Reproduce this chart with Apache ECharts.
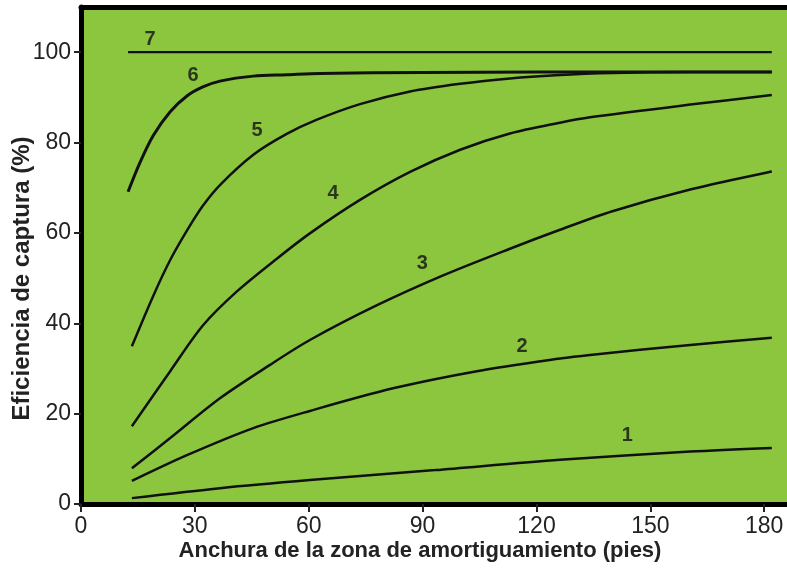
<!DOCTYPE html>
<html>
<head>
<meta charset="utf-8">
<script src="https://cdn.jsdelivr.net/npm/echarts@6/dist/echarts.min.js"></script>
<style>
  html, body { margin: 0; padding: 0; background: #fff; }
  #chart { width: 787px; height: 573px; }
</style>
</head>
<body>
<div id="chart"></div>
<script>
// cada curva: anchura (pies) y eficiencia (%)
const x1 = [13.4, 36.6, 60.3, 93.3, 126.2, 160.5, 182];
const y1 = [1.3, 3.5, 5.3, 7.5, 9.8, 11.6, 12.4];

const x2 = [13.4, 27.9, 45.4, 60.3, 82.2, 104.3, 126.2, 134.1, 160.5, 182];
const y2 = [5.1, 10.8, 16.8, 20.6, 25.6, 29.4, 32.2, 33.0, 35.2, 36.8];

const x3 = [13.4, 23.5, 36.6, 49.8, 60.3, 78, 95.4, 113, 126.2, 140, 160.5, 182];
const y3 = [7.9, 14.6, 23.4, 30.8, 36.3, 44.0, 50.6, 56.5, 60.7, 64.8, 69.6, 73.6];

const x4 = [13.4, 23.5, 32.1, 41, 51.6, 60.3, 73.5, 86.7, 99.9, 113, 126.2, 134.1, 160.5, 182];
const y4 = [17.2, 29.4, 39.5, 47, 54.3, 59.9, 67.3, 73.5, 78.4, 82.0, 84.4, 85.6, 88.4, 90.5];

const x5 = [13.4, 19, 23.5, 27.9, 32.1, 36.6, 45.4, 54.2, 62, 73.5, 86.7, 99.9, 113, 125, 140, 160, 182];
const y5 = [34.9, 46, 54, 60.5, 66.0, 70.6, 77.3, 81.9, 85.0, 88.5, 91.3, 93.0, 94.2, 94.9, 95.4, 95.6, 95.6];

const x6 = [12.4, 15.5, 19, 23.5, 27.9, 32.1, 36.6, 45.4, 54.2, 63, 90, 120, 150, 182];
const y6 = [69.1, 75.5, 81.5, 86.8, 90.3, 92.3, 93.6, 94.7, 95.0, 95.3, 95.5, 95.6, 95.6, 95.6];

const x7 = [12.4, 182];
const y7 = [100, 100];

// etiquetas de las curvas
const curveNames = ['1', '2', '3', '4', '5', '6', '7'];
const labelX = [143.9, 116.2, 89.9, 66.4, 46.4, 29.5, 18.2];
const labelY = [15.2, 34.9, 53.2, 68.7, 82.6, 94.8, 102.9];

const xTicks = [0, 30, 60, 90, 120, 150, 180];
const yTicks = [0, 20, 40, 60, 80, 100];

const pairs = (xs, ys) => xs.map((x, i) => [x, ys[i]]);

const chart = echarts.init(document.getElementById('chart'));

const lineSeries = (data, w) => ({
  type: 'line',
  data: data,
  smooth: 0.3,
  showSymbol: false,
  symbol: 'none',
  lineStyle: { color: '#111', width: w },
  silent: true
});

const option = {
  animation: false,
  grid: {
    left: 81, right: 0, top: 7, bottom: 69,
    outerBoundsMode: 'none',
    show: true,
    backgroundColor: '#8cc63f',
    borderWidth: 0
  },
  xAxis: [{
    type: 'value',
    min: 0, max: 186,
    name: 'Anchura de la zona de amortiguamiento (pies)',
    nameLocation: 'middle',
    nameGap: 36,
    nameMoveOverlap: false,
    nameTextStyle: {
      fontFamily: 'Liberation Sans', fontWeight: 'bold', fontSize: 22, color: '#222',
      padding: [0, 28, 0, 0]
    },
    axisLine: { lineStyle: { color: '#000', width: 5 } },
    axisTick: { length: 8, customValues: xTicks, lineStyle: { color: '#222', width: 2 } },
    axisLabel: {
      fontFamily: 'Liberation Sans', fontSize: 23, color: '#222', margin: 11,
      customValues: xTicks
    },
    splitLine: { show: false }
  }, {
    type: 'value',
    position: 'top',
    min: 0, max: 186,
    axisLine: { lineStyle: { color: '#000', width: 5 } },
    axisTick: { show: false },
    axisLabel: { show: false },
    splitLine: { show: false }
  }],
  yAxis: {
    type: 'value',
    min: 0, max: 110,
    name: 'Eficiencia de captura (%)',
    nameLocation: 'middle',
    nameGap: 47,
    nameMoveOverlap: false,
    nameTextStyle: {
      fontFamily: 'Liberation Sans', fontWeight: 'bold', fontSize: 24, color: '#222',
      padding: [0, 46, 0, 0]
    },
    axisLine: { show: true, lineStyle: { color: '#000', width: 5 } },
    axisTick: { show: true, length: 7, customValues: yTicks, lineStyle: { color: '#222', width: 2 } },
    axisLabel: {
      fontFamily: 'Liberation Sans', fontSize: 23, color: '#222', margin: 10,
      customValues: yTicks
    },
    splitLine: { show: false }
  },
  series: [
    lineSeries(pairs(x1, y1), 2.5),
    lineSeries(pairs(x2, y2), 2.5),
    lineSeries(pairs(x3, y3), 2.5),
    lineSeries(pairs(x4, y4), 2.5),
    lineSeries(pairs(x5, y5), 2.5),
    lineSeries(pairs(x6, y6), 3),
    lineSeries(pairs(x7, y7), 2.2),
    {
      type: 'scatter',
      symbolSize: 1,
      itemStyle: { color: 'rgba(0,0,0,0)' },
      silent: true,
      data: curveNames.map((n, i) => ({ value: [labelX[i], labelY[i]], name: n })),
      label: {
        show: true,
        position: 'inside',
        formatter: p => p.name,
        fontFamily: 'Liberation Sans',
        fontWeight: 'bold',
        fontSize: 20,
        color: '#111'
      }
    }
  ]
};

chart.setOption(option);
window.addEventListener('resize', () => chart.resize());
</script>
</body>
</html>
